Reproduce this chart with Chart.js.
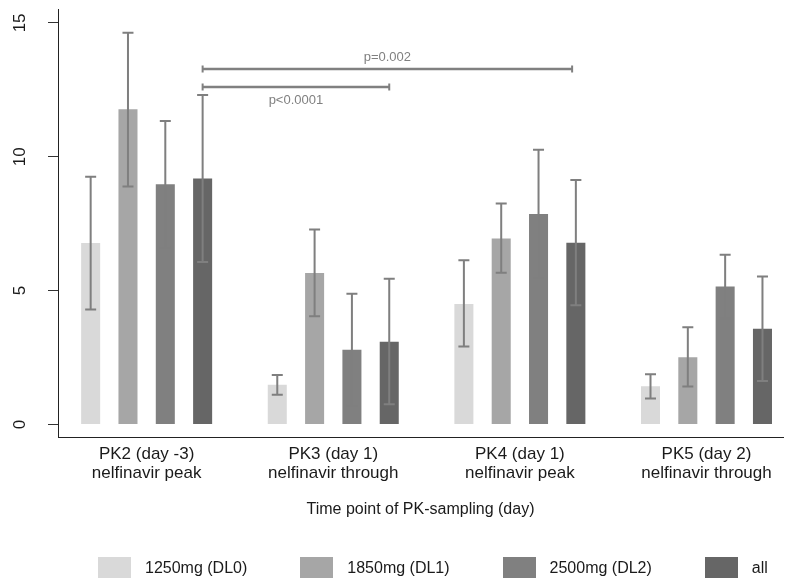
<!DOCTYPE html>
<html>
<head>
<meta charset="utf-8">
<script src="https://cdn.jsdelivr.net/npm/chart.js@4.4.0/dist/chart.umd.min.js"></script>
<style>
  html, body { margin: 0; padding: 0; background: #fff; }
  #wrap { position: relative; width: 789px; height: 580px; }
  #legend { position: absolute; left: 98px; top: 557px; display: flex; white-space: nowrap;
            font: 16px "Liberation Sans", Arial, sans-serif; color: #1a1a1a; }
  .item { display: flex; flex: none; align-items: center; margin-right: 53px; height: 21px; }
  .swatch { width: 33px; height: 21px; margin-right: 14px; }
</style>
</head>
<body>
<div id="wrap">
  <canvas id="chart" width="789" height="580"></canvas>
  <div id="legend"></div>
</div>
<script>
// categories (x groups) and their positions on the x scale
const categories = [
  ['PK2 (day -3)', 'nelfinavir peak'],
  ['PK3 (day 1)', 'nelfinavir through'],
  ['PK4 (day 1)', 'nelfinavir peak'],
  ['PK5 (day 2)', 'nelfinavir through']
];
const groupX = [0, 1, 2, 3];
const seriesNames = ['1250mg (DL0)', '1850mg (DL1)', '2500mg (DL2)', 'all'];

// means with lower / upper error limits
const dl0 = [6.78, 1.48, 4.50, 1.43];
const dl0Low = [4.29, 1.11, 2.91, 0.97];
const dl0High = [9.25, 1.85, 6.13, 1.87];
const dl1 = [11.77, 5.66, 6.95, 2.51];
const dl1Low = [8.89, 4.04, 5.67, 1.42];
const dl1High = [14.63, 7.28, 8.25, 3.63];
const dl2 = [8.97, 2.79, 7.86, 5.15];
const dl2Low = [6.60, 0.70, 5.46, 3.96];
const dl2High = [11.34, 4.88, 10.26, 6.34];
const all = [9.19, 3.09, 6.79, 3.57];
const allLow = [6.07, 0.75, 4.45, 1.62];
const allHigh = [12.31, 5.44, 9.13, 5.53];

const yTicks = [0, 5, 10, 15];

// significance brackets ("all" bars compared)
const bracketStart = [0.30, 0.30];
const bracketEnd = [1.30, 2.28];
const bracketY = [12.61, 13.28];
const bracketText = ['p<0.0001', 'p=0.002'];
const bracketTextSide = ['below', 'above'];

const colors = ['#d9d9d9', '#a6a6a6', '#808080', '#666666'];
const means = [dl0, dl1, dl2, all];
const lows = [dl0Low, dl1Low, dl2Low, allLow];
const highs = [dl0High, dl1High, dl2High, allHigh];
const font = '"Liberation Sans", Arial, sans-serif';

const barSets = seriesNames.map((name, d) => ({
  label: name,
  data: groupX.map((x, i) => ({ x: x, y: means[d][i] })),
  backgroundColor: colors[d],
  borderWidth: 0,
  categoryPercentage: 0.8,
  barPercentage: 0.51
}));

const bracketSets = bracketText.map((t, k) => ({
  type: 'line',
  label: t,
  data: [{ x: bracketStart[k], y: bracketY[k] }, { x: bracketEnd[k], y: bracketY[k] }],
  borderColor: '#808080',
  borderWidth: 2.5,
  fill: false,
  pointStyle: 'line',
  pointRotation: 90,
  pointRadius: 3.5,
  pointBorderWidth: 2,
  pointBorderColor: '#808080'
}));

// whiskers on top of each bar
const errorBars = {
  id: 'errorBars',
  afterDatasetsDraw(chart) {
    const ctx = chart.ctx, y = chart.scales.y;
    ctx.save();
    ctx.strokeStyle = '#7f7f7f';
    ctx.lineWidth = 2;
    means.forEach((m, d) => {
      chart.getDatasetMeta(d).data.forEach((bar, i) => {
        const top = y.getPixelForValue(highs[d][i]);
        const bot = y.getPixelForValue(lows[d][i]);
        ctx.beginPath();
        ctx.moveTo(bar.x, top); ctx.lineTo(bar.x, bot);
        ctx.moveTo(bar.x - 5.5, top); ctx.lineTo(bar.x + 5.5, top);
        ctx.moveTo(bar.x - 5.5, bot); ctx.lineTo(bar.x + 5.5, bot);
        ctx.stroke();
      });
    });
    ctx.restore();
  }
};

// p-value text next to the brackets
const bracketLabels = {
  id: 'bracketLabels',
  afterDatasetsDraw(chart) {
    const ctx = chart.ctx;
    ctx.save();
    ctx.font = '13px ' + font;
    ctx.fillStyle = '#808080';
    ctx.textAlign = 'center';
    ctx.textBaseline = 'middle';
    bracketText.forEach((t, k) => {
      const pts = chart.getDatasetMeta(means.length + k).data;
      const mx = (pts[0].x + pts[1].x) / 2;
      const dy = bracketTextSide[k] === 'above' ? -12 : 14;
      ctx.fillText(t, mx, pts[0].y + dy);
    });
    ctx.restore();
  }
};

const chart = new Chart(document.getElementById('chart'), {
  type: 'bar',
  data: { datasets: barSets.concat(bracketSets) },
  options: {
    responsive: false,
    animation: false,
    devicePixelRatio: 1,
    layout: { padding: { top: 9, right: 1, bottom: 61, left: 0 } },
    plugins: {
      legend: { display: false },
      tooltip: { enabled: false }
    },
    scales: {
      x: {
        type: 'linear',
        offset: false,
        bounds: 'data',
        min: -0.475,
        max: 3.41,
        grid: { display: false, drawTicks: false, offset: false },
        border: { display: true, color: '#222', width: 1 },
        afterBuildTicks: s => { s.ticks = groupX.map(v => ({ value: v })); },
        afterFit: s => { s.paddingLeft = 0; s.paddingRight = 0; },
        ticks: {
          autoSkip: false,
          maxRotation: 0,
          padding: 8,
          color: '#1a1a1a',
          font: { family: font, size: 17, lineHeight: 1.1 },
          callback: v => categories[groupX.indexOf(v)]
        },
        title: {
          display: true,
          text: 'Time point of PK-sampling (day)',
          color: '#1a1a1a',
          font: { family: font, size: 16 },
          padding: { top: 9, bottom: 0 }
        }
      },
      y: {
        min: -0.485,
        max: 15.52,
        afterFit: s => { s.width = 58; s.paddingTop = 0; s.paddingBottom = 0; },
        afterBuildTicks: s => { s.ticks = yTicks.map(v => ({ value: v })); },
        grid: { display: true, drawOnChartArea: false, tickLength: 10, color: '#333' },
        border: { display: true, color: '#222', width: 1 },
        ticks: {
          minRotation: 90,
          maxRotation: 90,
          crossAlign: 'center',
          padding: 18,
          color: '#1a1a1a',
          font: { family: font, size: 17 }
        }
      }
    }
  },
  plugins: [errorBars, bracketLabels]
});

// legend below the chart
const legend = document.getElementById('legend');
chart.data.datasets.slice(0, seriesNames.length).forEach(ds => {
  const item = document.createElement('div');
  item.className = 'item';
  const sw = document.createElement('span');
  sw.className = 'swatch';
  sw.style.background = ds.backgroundColor;
  const txt = document.createElement('span');
  txt.textContent = ds.label;
  item.appendChild(sw);
  item.appendChild(txt);
  legend.appendChild(item);
});
</script>
</body>
</html>
